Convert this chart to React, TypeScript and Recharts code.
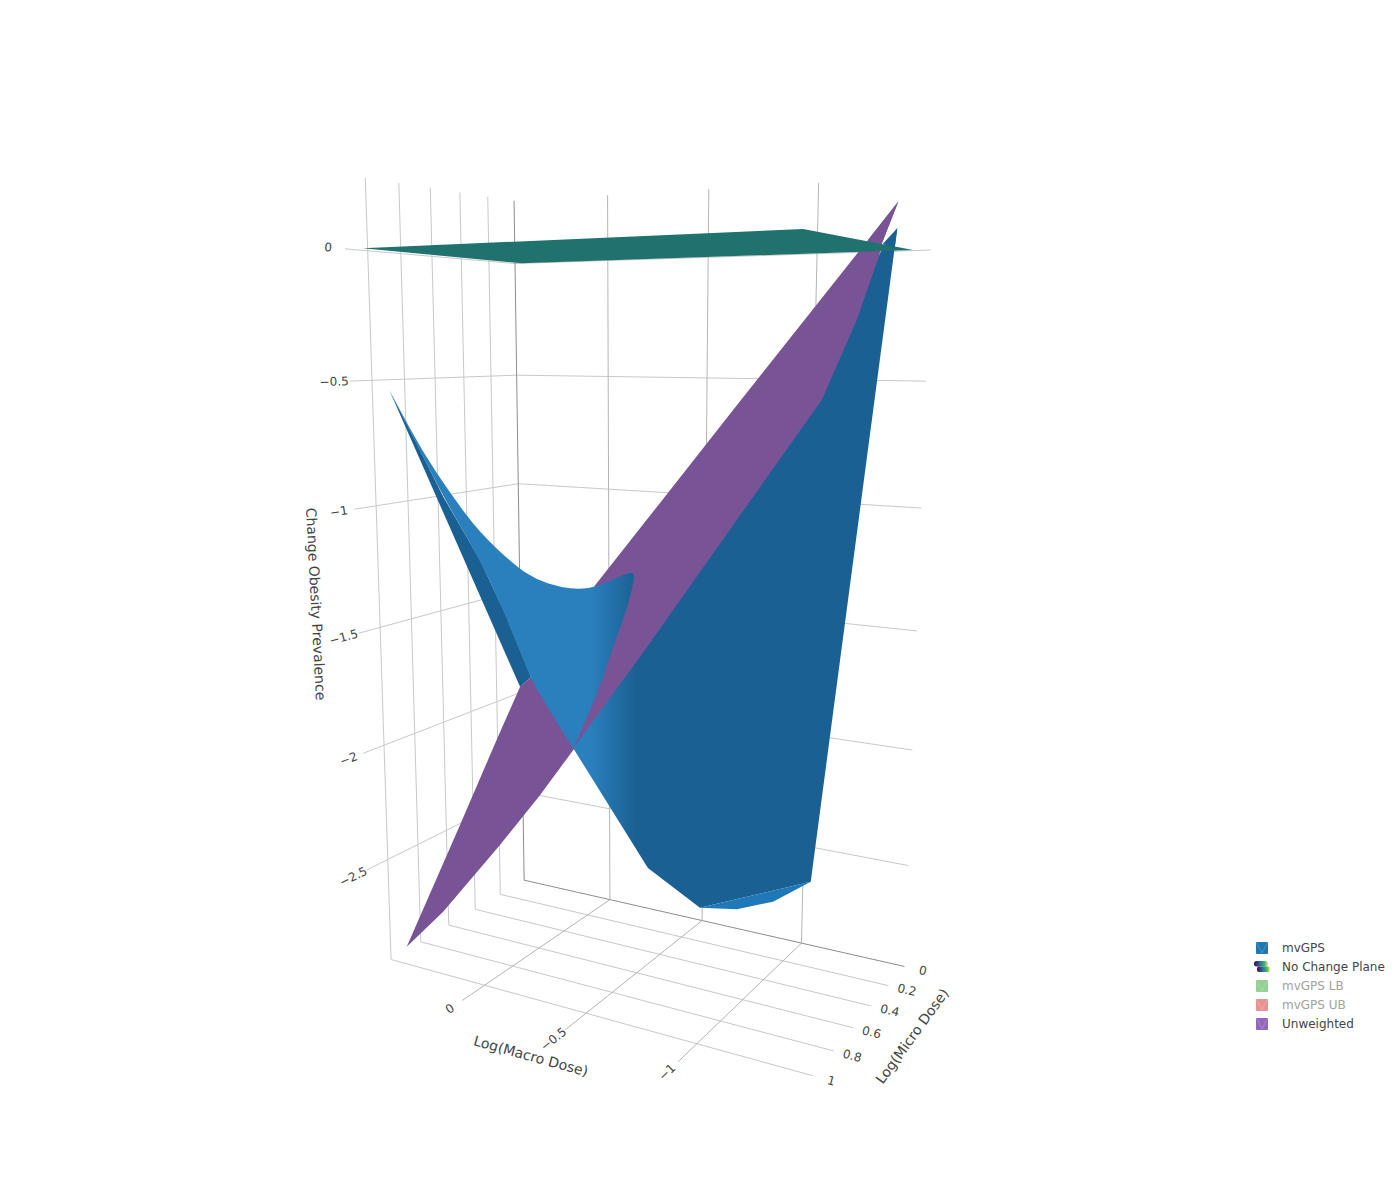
import React from 'react';
import { Legend, Scatter, ScatterChart, XAxis, YAxis } from 'recharts';

// camera fitted to the plot's box, maps [macro, micro, change] onto the page plane
const camera = [
  [-145.25056, -206.25736, -18.491926, 607.80261],
  [26.682161, -49.560763, -242.86333, 260.54533],
  [0.078333314, -0.14464891, -0.02914485, 1],
];

const macroTicks = [0, -0.5, -1];
const microTicks = [0, 0.2, 0.4, 0.6, 0.8, 1];
const changeTicks = [0, -0.5, -1, -1.5, -2, -2.5];
const macroRange = [0.5, -1.48];
const changeRange = [-2.95, 0.275];
const tickReach = 1.13;
const macroTickReach = 1.15;

// surfaces as [macro, micro, change] outlines
const mvgpsEdgeStrip = [
  [0.466, 0.937, -0.539], [-0.012, 0.731, -1.748], [-0.052, 0.708, -1.707], [0.043, 0.753, -1.441],
  [0.135, 0.794, -1.222], [0.269, 0.855, -0.965], [0.366, 0.896, -0.751],
];
const unweightedOutline = [
  [0.402, 1.01, -2.866], [0.269, 0.924, -2.715], [0.062, 0.791, -2.426], [-0.085, 0.7, -2.21],
  [-0.206, 0.627, -2.018], [-0.669, 0.372, -1.384], [-1.217, 0.145, -0.573], [-1.333, 0.152, 0.018],
  [-1.394, 0.149, 0.172], [-1.283, 0.169, 0.034], [-0.79, 0.33, -0.615], [-0.523, 0.452, -0.987],
  [-0.286, 0.575, -1.324], [-0.052, 0.708, -1.707], [-0.012, 0.731, -1.748], [0.074, 0.785, -1.973],
  [0.208, 0.873, -2.337],
];
const mvgpsFold = [
  [0.466, 0.937, -0.539], [0.427, 0.921, -0.618], [0.343, 0.886, -0.786], [0.244, 0.842, -0.95],
  [0.135, 0.791, -1.112], [0.001, 0.725, -1.249], [-0.073, 0.687, -1.303], [-0.158, 0.643, -1.333],
  [-0.231, 0.604, -1.341], [-0.292, 0.572, -1.33], [-0.352, 0.54, -1.3], [-0.426, 0.501, -1.264],
  [-0.429, 0.499, -1.302], [-0.401, 0.514, -1.427], [-0.351, 0.542, -1.58], [-0.292, 0.576, -1.791],
  [-0.206, 0.627, -2.01], [-0.097, 0.685, -1.804], [-0.048, 0.71, -1.706], [0.043, 0.753, -1.441],
  [0.135, 0.794, -1.222], [0.269, 0.855, -0.965], [0.366, 0.896, -0.751],
];
const foldCorners = [0, 16];
const mvgpsBody = [
  [-1.39, 0.14, 0.075], [-1.327, 0.151, -0.015], [-1.242, 0.159, -0.265], [-1.114, 0.188, -0.574],
  [-0.669, 0.374, -1.268], [-0.468, 0.478, -1.594], [-0.206, 0.627, -2.01], [-0.479, 0.469, -2.537],
  [-0.669, 0.348, -2.722], [-1.074, 0.088, -2.619],
];
const mvgpsUnderside = [
  [-0.669, 0.348, -2.722], [-0.804, 0.26, -2.734], [-0.936, 0.175, -2.705], [-1.074, 0.088, -2.619],
];
const unweightedTip = [[-1.394, 0.149, 0.172], [-1.283, 0.169, 0.034], [-1.333, 0.152, 0.018]];
const mvgpsTip = [[-1.39, 0.14, 0.075], [-1.337, 0.151, 0.018], [-1.381, 0.136, 0.003]];
const noChangePlane = [[0.42, 1.12, 0], [0.461, 0.003, 0], [-1.42, 0.035, 0], [-1.438, 1.155, 0]];

const legendItems = [
  { name: 'mvGPS', color: '#1f77b4', off: false },
  { name: 'No Change Plane', color: 'url(#planeIcon)', off: false },
  { name: 'mvGPS LB', color: '#2ca02c', off: true },
  { name: 'mvGPS UB', color: '#d62728', off: true },
  { name: 'Unweighted', color: '#9467bd', off: false },
];

const FONT = '"DejaVu Sans", Verdana, sans-serif';
const INK = '#444';

const project = ([macro, micro, change]: number[]) => {
  const [a, b, c] = camera;
  const w = c[0] * macro + c[1] * micro + c[2] * change + c[3];
  return {
    px: (a[0] * macro + a[1] * micro + a[2] * change + a[3]) / w,
    py: (b[0] * macro + b[1] * micro + b[2] * change + b[3]) / w,
  };
};

const [macroHi, macroLo] = macroRange;
const [changeLo, changeHi] = changeRange;

const gridLines = [
  ...changeTicks.map((z) => ({
    path: [[macroHi, tickReach, z], [macroHi, 0, z], [macroLo, 0, z]],
    stroke: '#c8c8c8',
  })),
  ...microTicks.map((u) => ({
    path: [[macroHi, u, changeHi], [macroHi, u, changeLo], [macroLo, u, changeLo]],
    stroke: u === 0 ? '#8c8c8c' : '#c8c8c8',
  })),
  ...macroTicks.map((m) => ({
    path: [[m, 0, changeHi], [m, 0, changeLo], [m, macroTickReach, changeLo]],
    stroke: '#b4b4b4',
  })),
];

// tick label sits a little past the tick end, turned along the tick
const tickLabel = (from: number[], to: number[], text: string, gap: number) => {
  const a = project(from);
  const b = project(to);
  const len = Math.hypot(b.px - a.px, b.py - a.py);
  const ux = (b.px - a.px) / len;
  const uy = (b.py - a.py) / len;
  let angle = (Math.atan2(uy, ux) * 180) / Math.PI;
  if (angle > 90) angle -= 180;
  if (angle < -90) angle += 180;
  return { ...b, dx: ux * gap, dy: uy * gap, text, angle, size: 12 };
};
const fmt = (v: number) => String(v).replace('-', '\u2212');

const labels = [
  ...changeTicks.map((z) => tickLabel([macroHi, 0.9, z], [macroHi, tickReach, z], fmt(z), z === 0 ? 17 : 15.5)),
  ...microTicks.map((u) => tickLabel([macroLo + 0.2, u, changeLo], [macroLo, u, changeLo], fmt(u), 19)),
  ...macroTicks.map((m) => tickLabel([m, 0.9, changeLo], [m, macroTickReach, changeLo], fmt(m), 15)),
];
const titles = [
  { px: 316, py: 604, dx: 0, dy: 0, text: 'Change Obesity Prevalence', angle: 87, size: 14 },
  { px: 531, py: 1056, dx: 0, dy: 0, text: 'Log(Macro Dose)', angle: 15.5, size: 14 },
  { px: 912, py: 1036, dx: 0, dy: 0, text: 'Log(Micro Dose)', angle: -54, size: 14 },
];

// closed outline, rounded between vertices except at the listed corners
const outlinePath = (pts: { x: number; y: number }[], corners?: number[]) => {
  if (!corners) return `M${pts.map((t) => `${t.x},${t.y}`).join('L')}Z`;
  let d = `M${pts[0].x},${pts[0].y}`;
  for (let i = 1; i <= pts.length; i++) {
    const v = pts[i % pts.length];
    const n = pts[(i + 1) % pts.length];
    if (corners.includes(i % pts.length)) continue;
    const end = corners.includes((i + 1) % pts.length) ? n : { x: (v.x + n.x) / 2, y: (v.y + n.y) / 2 };
    d += `Q${v.x},${v.y} ${end.x},${end.y}`;
  }
  return `${d}Z`;
};

const surface = (outline: number[][], fill: string, key: string, corners?: number[]) => (
  <Scatter
    key={key}
    data={outline.map(project)}
    isAnimationActive={false}
    shape={() => null}
    line={(p: any) => (
      <g>
        <defs>
          <linearGradient id="foldShade" gradientUnits="userSpaceOnUse" x1={590} x2={636} y1={0} y2={0}>
            <stop offset="0" stopColor="#2a80bd" />
            <stop offset="1" stopColor="#1a6093" />
          </linearGradient>
        </defs>
        <path d={outlinePath(p.points, corners)} fill={fill} stroke="none" />
      </g>
    )}
  />
);

const textMark = (p: any) => {
  const d = p.payload;
  const x = p.cx + d.dx;
  const y = p.cy + d.dy;
  return (
    <text x={x} y={y} fill={INK} fontFamily={FONT} fontSize={d.size} textAnchor="middle" dominantBaseline="central" transform={`rotate(${d.angle} ${x} ${y})`}>
      {d.text}
    </text>
  );
};

const legendContent = () => (
  <div style={{ fontFamily: FONT, fontSize: 12, lineHeight: '19px' }}>
    {legendItems.map((item) => (
      <div key={item.name} style={{ display: 'flex', alignItems: 'center', height: 19, color: item.off ? '#a2a2a2' : INK, whiteSpace: 'nowrap' }}>
        <svg width={30} height={19} style={{ flex: 'none' }}>
          <defs>
            <linearGradient id="planeIcon" x1="0" x2="1" y1="0" y2="0">
              <stop offset="0" stopColor="#440154" />
              <stop offset="0.4" stopColor="#31688e" />
              <stop offset="0.75" stopColor="#35b779" />
              <stop offset="1" stopColor="#fde725" />
            </linearGradient>
          </defs>
          {item.name === 'No Change Plane' ? (
            <g>
              <rect x={2} y={3} width={14} height={5.5} rx={2.5} fill={item.color} />
              <rect x={5} y={8.5} width={13} height={5.5} rx={2} fill={item.color} />
            </g>
          ) : (
            <g opacity={item.off ? 0.5 : 1}>
              <rect x={4} y={3} width={12} height={12} rx={1} fill={item.color} />
              <path d="M5 4 L10 14 L15 4" fill="none" stroke="#fff" strokeOpacity={0.2} />
            </g>
          )}
        </svg>
        {item.name}
      </div>
    ))}
  </div>
);

export default function App() {
  return (
    <div style={{ position: 'absolute', left: 0, top: 0, width: 1400, height: 1200 }}>
      <ScatterChart width={1400} height={1200} margin={{ top: 0, right: 0, bottom: 0, left: 0 }}>
        <XAxis type="number" dataKey="px" domain={[0, 1400]} hide />
        <YAxis type="number" dataKey="py" domain={[0, 1200]} reversed hide />
        {gridLines.map((l, i) => (
          <Scatter key={i} data={l.path.map(project)} isAnimationActive={false} shape={() => null} line={{ stroke: l.stroke, strokeWidth: 1 }} />
        ))}
        {surface(mvgpsEdgeStrip, '#1a6093', 'strip')}
        {surface(unweightedOutline, '#785496', 'unweighted')}
        {surface(mvgpsFold, 'url(#foldShade)', 'fold', foldCorners)}
        {surface(mvgpsBody, 'url(#foldShade)', 'body')}
        {surface(mvgpsUnderside, '#1f78b8', 'underside')}
        {surface(noChangePlane, '#20726e', 'plane')}
        {surface(unweightedTip, '#785496', 'unweightedTip')}
        {surface(mvgpsTip, '#1a6093', 'mvgpsTip')}
        <Scatter data={[...labels, ...titles]} isAnimationActive={false} shape={textMark} />
        <Legend layout="vertical" align="center" verticalAlign="middle" content={legendContent} wrapperStyle={{ left: 1252, top: 939, width: 148 }} />
      </ScatterChart>
    </div>
  );
}
